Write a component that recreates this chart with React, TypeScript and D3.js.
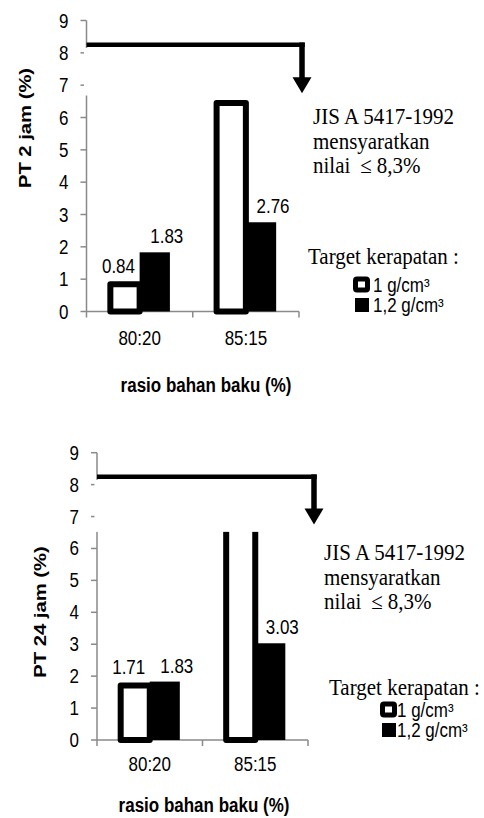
import React from "react";
import * as d3 from "d3";

// ---------- data ----------
const categories = ["80:20", "85:15"];
const seriesNames = ["1 g/cm³", "1,2 g/cm³"];
const yTicks = [0, 1, 2, 3, 4, 5, 6, 7, 8, 9];

const pt2White = [0.84, 6.45];
const pt2Black = [1.83, 2.76];
const pt2WhiteLabels = ["0.84", ""];
const pt2BlackLabels = ["1.83", "2.76"];

const pt24White = [1.71, 7.6];
const pt24Black = [1.83, 3.03];
const pt24WhiteLabels = ["1.71", ""];
const pt24BlackLabels = ["1.83", "3.03"];

const standardValue = 8.25;
const arrowTipValue = 6.75;
const annotationLines = ["JIS A 5417-1992", "mensyaratkan"];
const legendTitle = "Target kerapatan :";
const xTitle = "rasio bahan baku (%)";

// ---------- layout ----------
const SANS = "'Liberation Sans', Arial, sans-serif";
const SERIF = "'Liberation Serif', 'Times New Roman', serif";
const AXIS = "#8a8a8a";
const SY = 1.15;

type Cfg = {
  left: number; right: number; y0: number; y9: number;
  maskLo: number; maskHi: number; arrowDx: number;
  yTitleX: number; yTitleY: number; yTitle: string;
  xTitleX: number; xTitleY: number; xTickY: number;
  annX: number; annY: number; legX: number; legY: number;
  legSqX: number; legTextX: number; leg1Y: number; leg2Y: number;
};

const cfgTop: Cfg = {
  left: 86.5, right: 299, y0: 311.5, y9: 20.5,
  maskLo: 6.68, maskHi: 8.15, arrowDx: 3,
  yTitleX: 31, yTitleY: 128, yTitle: "PT 2 jam (%)",
  xTitleX: 206, xTitleY: 392, xTickY: 345,
  annX: 313, annY: 124, legX: 308, legY: 264,
  legSqX: 353, legTextX: 373, leg1Y: 291.5, leg2Y: 312,
};
const cfgBot: Cfg = {
  left: 97, right: 308, y0: 740, y9: 452.7,
  maskLo: 6.52, maskHi: 8.15, arrowDx: 6,
  yTitleX: 46, yTitleY: 612, yTitle: "PT 24 jam (%)",
  xTitleX: 204, xTitleY: 811.5, xTickY: 770.5,
  annX: 324, annY: 560, legX: 329, legY: 695,
  legSqX: 380, legTextX: 397, leg1Y: 716.5, leg2Y: 737,
};

function T(props: any) {
  const { x, y, sy = SY, children, ...rest } = props;
  return (
    <text transform={`translate(${x},${y}) scale(1,${sy})`} {...rest}>
      {children}
    </text>
  );
}

function Panel({ cfg, white, black, whiteLabels, blackLabels }: any) {
  const x = d3.scaleBand<string>().domain(categories).range([cfg.left, cfg.right]);
  const y = d3.scaleLinear().domain([0, 9]).range([cfg.y0, cfg.y9]);
  const bw = x.bandwidth() * 0.285;
  const c = (cat: string) => (x(cat) as number) + x.bandwidth() / 2;
  const ax = cfg.right + cfg.arrowDx;
  const ys = y(standardValue);
  const yt = y(arrowTipValue);
  const headH = 16;
  const headW = 19;
  const bounds = [cfg.left, ...categories.map((k) => (x(k) as number) + x.bandwidth())];

  return (
    <g>
      {/* y axis */}
      <line x1={cfg.left} x2={cfg.left} y1={y(0)} y2={y(9)} stroke={AXIS} strokeWidth={1.5} />
      {yTicks.map((t) => (
        <g key={t}>
          <line x1={cfg.left - 6} x2={cfg.left} y1={y(t)} y2={y(t)} stroke={AXIS} strokeWidth={1.5} />
          <T x={cfg.left - 18} y={y(t) + 7} textAnchor="end" fontFamily={SANS} fontSize={17} fill="#000">
            {t}
          </T>
        </g>
      ))}
      {/* x axis */}
      <line x1={cfg.left} x2={cfg.right} y1={y(0)} y2={y(0)} stroke={AXIS} strokeWidth={1.5} />
      {bounds.map((b, i) => (
        <line key={i} x1={b} x2={b} y1={y(0)} y2={y(0) + 6} stroke={AXIS} strokeWidth={1.5} />
      ))}
      {/* bars */}
      {categories.map((cat, i) => (
        <g key={cat}>
          <rect
            x={c(cat) - bw + 1}
            y={y(white[i])}
            width={bw - 1}
            height={y(0) - y(white[i])}
            fill="#fff"
            stroke="#000"
            strokeWidth={6}
            strokeLinejoin="round"
          />
          <rect x={c(cat)} y={y(black[i])} width={bw} height={y(0) - y(black[i])} fill="#000" />
        </g>
      ))}
      {/* white mask (broken axis) */}
      <rect
        x={cfg.left - 2.5}
        y={y(cfg.maskHi)}
        width={cfg.right - cfg.left + 10}
        height={y(cfg.maskLo) - y(cfg.maskHi)}
        fill="#fff"
      />
      {/* arrow */}
      <line x1={cfg.left} x2={ax + 2.75} y1={ys} y2={ys} stroke="#000" strokeWidth={4.5} />
      <line x1={ax} x2={ax} y1={ys - 2.25} y2={yt - headH + 2} stroke="#000" strokeWidth={5.5} />
      <path d={`M${ax - headW / 2},${yt - headH} L${ax + headW / 2},${yt - headH} L${ax},${yt} Z`} fill="#000" />
      {/* data labels */}
      {categories.map((cat, i) => (
        <g key={"l" + cat}>
          {whiteLabels[i] && (
            <T x={c(cat) - bw / 2 - 6} y={y(white[i]) - 11} textAnchor="middle" fontFamily={SANS} fontSize={17}>
              {whiteLabels[i]}
            </T>
          )}
          {blackLabels[i] && (
            <T x={c(cat) + bw / 2 + 12} y={y(black[i]) - 9} textAnchor="middle" fontFamily={SANS} fontSize={17}>
              {blackLabels[i]}
            </T>
          )}
        </g>
      ))}
      {/* x tick labels */}
      {categories.map((cat) => (
        <T key={"t" + cat} x={c(cat)} y={cfg.xTickY} textAnchor="middle" fontFamily={SANS} fontSize={17}>
          {cat}
        </T>
      ))}
      {/* axis titles */}
      <T x={cfg.xTitleX} y={cfg.xTitleY} textAnchor="middle" fontFamily={SANS} fontSize={17} fontWeight="bold">
        {xTitle}
      </T>
      <text
        transform={`translate(${cfg.yTitleX},${cfg.yTitleY}) rotate(-90) scale(1.19,1)`}
        textAnchor="middle"
        fontFamily={SANS}
        fontSize={17}
        fontWeight="bold"
      >
        {cfg.yTitle}
      </text>
      {/* annotation */}
      <g fontFamily={SERIF} fontSize={21}>
        {annotationLines.map((s, i) => (
          <T key={s} x={cfg.annX} y={cfg.annY + i * 24.5} sy={1.08}>
            {s}
          </T>
        ))}
        <T x={cfg.annX} y={cfg.annY + 49} sy={1.08}>
          <tspan>nilai</tspan>
          <tspan dx={10}>≤</tspan>
          <tspan dx={5}>8,3%</tspan>
        </T>
        <T x={cfg.legX} y={cfg.legY} sy={1.08}>
          {legendTitle}
        </T>
      </g>
      {/* legend */}
      <rect x={cfg.legSqX + 2.5} y={cfg.leg1Y - 12.5} width={12} height={11} fill="#fff" stroke="#000" strokeWidth={5} rx={1.5} />
      <rect x={cfg.legSqX + 2} y={cfg.leg2Y - 14} width={14} height={14} fill="#000" />
      <T x={cfg.legTextX} y={cfg.leg1Y} fontFamily={SANS} fontSize={17}>
        {seriesNames[0]}
      </T>
      <T x={cfg.legTextX} y={cfg.leg2Y} fontFamily={SANS} fontSize={17}>
        {seriesNames[1]}
      </T>
    </g>
  );
}

export default function App() {
  return (
    <svg
      width={484}
      height={818}
      viewBox="0 0 484 818"
      style={{ position: "absolute", left: 0, top: 0, background: "#fff" }}
    >
      <rect x={0} y={0} width={484} height={818} fill="#fff" />
      <Panel cfg={cfgTop} white={pt2White} black={pt2Black} whiteLabels={pt2WhiteLabels} blackLabels={pt2BlackLabels} />
      <Panel cfg={cfgBot} white={pt24White} black={pt24Black} whiteLabels={pt24WhiteLabels} blackLabels={pt24BlackLabels} />
    </svg>
  );
}
